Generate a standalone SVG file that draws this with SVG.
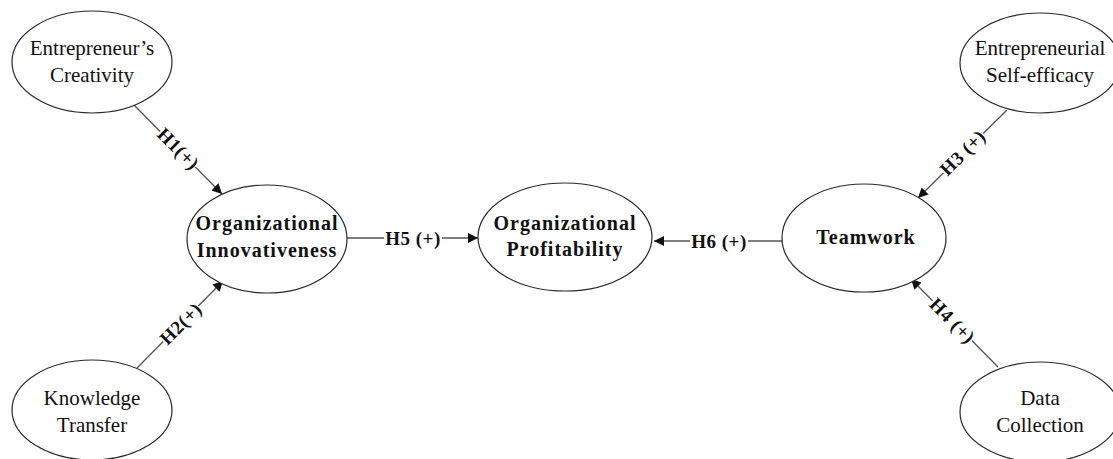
<svg xmlns="http://www.w3.org/2000/svg" width="1113" height="459" viewBox="0 0 1113 459">
<style>
.node ellipse{fill:#fff;stroke:#2a2a2a;stroke-width:1.2}
.t{font-family:"Liberation Serif","Times New Roman",serif;font-size:21px;fill:#111;text-anchor:middle}
.b{font-family:"Liberation Serif","Times New Roman",serif;font-size:20px;font-weight:bold;fill:#111;text-anchor:middle;letter-spacing:1px}
.edge line{stroke:#555;stroke-width:1.3}
.lbl{font-family:"Liberation Serif","Times New Roman",serif;font-size:19px;font-weight:bold;fill:#111;text-anchor:middle;letter-spacing:0.5px}
.bg{fill:#fff}
</style>
<defs>
<marker id="ah" viewBox="0 0 10 10" refX="10" refY="5" markerWidth="14" markerHeight="10" markerUnits="userSpaceOnUse" orient="auto">
<path d="M0,0 L10,5 L0,10 z" fill="#111"/>
</marker>
</defs>
<rect width="1113" height="459" fill="#fff"/>
<g id="connectors" class="edge">
<line x1="134" y1="105" x2="222" y2="194" marker-end="url(#ah)"/>
<line x1="137" y1="368" x2="223" y2="281" marker-end="url(#ah)"/>
<line x1="347" y1="238" x2="478" y2="238" marker-end="url(#ah)"/>
<line x1="784" y1="241" x2="654" y2="241" marker-end="url(#ah)"/>
<line x1="1007" y1="110" x2="918" y2="198" marker-end="url(#ah)"/>
<line x1="998" y1="367" x2="911" y2="279" marker-end="url(#ah)"/>
<g transform="translate(178,149) rotate(45)"><rect class="bg" x="-25" y="-9" width="50" height="18"/><text class="lbl" y="6">H1(+)</text></g>
<g transform="translate(181,324) rotate(-45)"><rect class="bg" x="-25" y="-9" width="50" height="18"/><text class="lbl" y="6">H2(+)</text></g>
<g transform="translate(963,153) rotate(-45)"><rect class="bg" x="-28" y="-9" width="56" height="18"/><text class="lbl" y="6">H3 (+)</text></g>
<g transform="translate(952,321) rotate(45)"><rect class="bg" x="-28" y="-9" width="56" height="18"/><text class="lbl" y="6">H4 (+)</text></g>
<g transform="translate(413,239)"><rect class="bg" x="-29" y="-9" width="58" height="18"/><text class="lbl" y="6">H5 (+)</text></g>
<g transform="translate(719,242)"><rect class="bg" x="-29" y="-9" width="58" height="18"/><text class="lbl" y="6">H6 (+)</text></g>
</g>
<g id="creativity" class="node">
<ellipse cx="92" cy="62" rx="80" ry="51"/>
<text class="t" x="92" y="55">Entrepreneur’s</text>
<text class="t" x="92" y="82">Creativity</text>
</g>
<g id="knowledge" class="node">
<ellipse cx="92" cy="410" rx="80" ry="50"/>
<text class="t" x="92" y="405">Knowledge</text>
<text class="t" x="92" y="432">Transfer</text>
</g>
<g id="innovativeness" class="node">
<ellipse cx="267" cy="239" rx="80" ry="54"/>
<text class="b" x="267" y="230">Organizational</text>
<text class="b" x="267" y="257">Innovativeness</text>
</g>
<g id="profitability" class="node">
<ellipse cx="565" cy="237" rx="87" ry="54"/>
<text class="b" x="565" y="230">Organizational</text>
<text class="b" x="565" y="256">Profitability</text>
</g>
<g id="teamwork" class="node">
<ellipse cx="864" cy="238" rx="82" ry="54"/>
<text class="b" x="866" y="244">Teamwork</text>
</g>
<g id="selfefficacy" class="node">
<ellipse cx="1040" cy="63" rx="80" ry="50"/>
<text class="t" x="1040" y="55">Entrepreneurial</text>
<text class="t" x="1040" y="82">Self-efficacy</text>
</g>
<g id="datacollection" class="node">
<ellipse cx="1040" cy="412" rx="80" ry="50"/>
<text class="t" x="1040" y="405">Data</text>
<text class="t" x="1040" y="432">Collection</text>
</g>
</svg>
